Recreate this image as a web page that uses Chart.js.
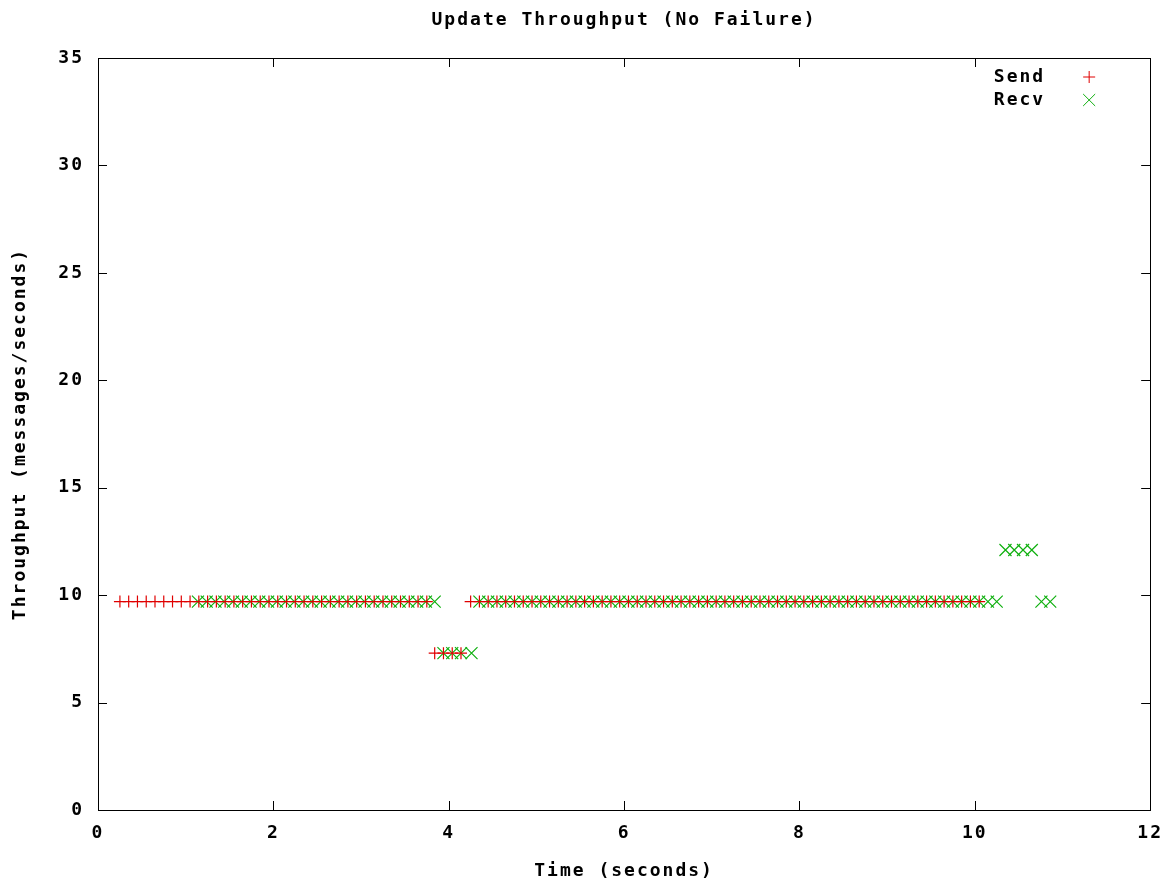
<!DOCTYPE html>
<html>
<head>
<meta charset="utf-8">
<script src="https://cdn.jsdelivr.net/npm/chart.js@4.4.0/dist/chart.umd.min.js"></script>
<style>
  html, body { margin: 0; padding: 0; background: #fff; }
  #wrap { width: 1176px; height: 884px; }
</style>
</head>
<body>
<div id="wrap"><canvas id="chart"></canvas></div>
<script>
const title  = 'Update Throughput (No Failure)';
const xLabel = 'Time (seconds)';
const yLabel = 'Throughput (messages/seconds)';

const xTicks = [0, 2, 4, 6, 8, 10, 12];
const yTicks = [0, 5, 10, 15, 20, 25, 30, 35];

// send timestamps (s) and throughput (msg/s)
const sendTime = [
  0.25,0.35,0.45,0.55,0.65,0.75,0.85,0.95,1.05,1.15,1.25,1.35,1.45,1.55,1.65,1.75,1.85,1.95,
  2.05,2.15,2.25,2.35,2.45,2.55,2.65,2.75,2.85,2.95,3.05,3.15,3.25,3.35,3.45,3.55,3.65,3.75,
  3.84,3.94,4.04,4.14,
  4.25,4.35,4.45,4.55,4.65,4.75,4.85,4.95,5.05,5.15,5.25,5.35,5.45,5.55,5.65,5.75,5.85,5.95,
  6.05,6.15,6.25,6.35,6.45,6.55,6.65,6.75,6.85,6.95,7.05,7.15,7.25,7.35,7.45,7.55,7.65,7.75,
  7.85,7.95,8.05,8.15,8.25,8.35,8.45,8.55,8.65,8.75,8.85,8.95,9.05,9.15,9.25,9.35,9.45,9.55,
  9.65,9.75,9.85,9.95,10.05
];
const sendRate = [
  9.7,9.7,9.7,9.7,9.7,9.7,9.7,9.7,9.7,9.7,9.7,9.7,9.7,9.7,9.7,9.7,9.7,9.7,
  9.7,9.7,9.7,9.7,9.7,9.7,9.7,9.7,9.7,9.7,9.7,9.7,9.7,9.7,9.7,9.7,9.7,9.7,
  7.3,7.3,7.3,7.3,
  9.7,9.7,9.7,9.7,9.7,9.7,9.7,9.7,9.7,9.7,9.7,9.7,9.7,9.7,9.7,9.7,9.7,9.7,
  9.7,9.7,9.7,9.7,9.7,9.7,9.7,9.7,9.7,9.7,9.7,9.7,9.7,9.7,9.7,9.7,9.7,9.7,
  9.7,9.7,9.7,9.7,9.7,9.7,9.7,9.7,9.7,9.7,9.7,9.7,9.7,9.7,9.7,9.7,9.7,9.7,
  9.7,9.7,9.7,9.7,9.7
];

// receive timestamps (s) and throughput (msg/s)
const recvTime = [
  1.14,1.24,1.34,1.44,1.54,1.64,1.74,1.84,1.94,2.04,2.14,2.24,2.34,2.44,2.54,2.64,2.74,2.84,
  2.94,3.04,3.14,3.24,3.34,3.44,3.54,3.64,3.74,3.84,
  3.94,4.04,4.14,4.26,
  4.35,4.45,4.55,4.65,4.75,4.85,4.95,5.05,5.15,5.25,5.35,5.45,5.55,5.65,5.75,5.85,5.95,6.05,
  6.15,6.25,6.35,6.45,6.55,6.65,6.75,6.85,6.95,7.05,7.15,7.25,7.35,7.45,7.55,7.65,7.75,7.85,
  7.95,8.05,8.15,8.25,8.35,8.45,8.55,8.65,8.75,8.85,8.95,9.05,9.15,9.25,9.35,9.45,9.55,9.65,
  9.75,9.85,9.95,10.05,10.15,10.25,
  10.35,10.45,10.55,10.65,
  10.76,10.86
];
const recvRate = [
  9.7,9.7,9.7,9.7,9.7,9.7,9.7,9.7,9.7,9.7,9.7,9.7,9.7,9.7,9.7,9.7,9.7,9.7,
  9.7,9.7,9.7,9.7,9.7,9.7,9.7,9.7,9.7,9.7,
  7.3,7.3,7.3,7.3,
  9.7,9.7,9.7,9.7,9.7,9.7,9.7,9.7,9.7,9.7,9.7,9.7,9.7,9.7,9.7,9.7,9.7,9.7,
  9.7,9.7,9.7,9.7,9.7,9.7,9.7,9.7,9.7,9.7,9.7,9.7,9.7,9.7,9.7,9.7,9.7,9.7,
  9.7,9.7,9.7,9.7,9.7,9.7,9.7,9.7,9.7,9.7,9.7,9.7,9.7,9.7,9.7,9.7,9.7,9.7,
  9.7,9.7,9.7,9.7,9.7,9.7,
  12.1,12.1,12.1,12.1,
  9.7,9.7
];

const RED = '#e00000';
const GREEN = '#10b010';
const FONT = { family: '"DejaVu Sans Mono", monospace', size: 18, weight: 'bold' };

const toPoints = (xs, ys) => xs.map((x, i) => ({ x: x, y: ys[i] }));

// gnuplot look: spaced text, frame on all sides, ticks pointing inward
const gnuplotStyle = {
  id: 'gnuplotStyle',
  beforeLayout(chart) { chart.ctx.letterSpacing = '2px'; },
  beforeDraw(chart) { chart.ctx.letterSpacing = '2px'; },
  beforeDatasetsDraw(chart) {
    const { ctx, chartArea: a, scales } = chart;
    ctx.save();
    ctx.strokeStyle = '#000';
    ctx.lineWidth = 1;
    ctx.beginPath();
    xTicks.forEach(v => {
      const px = Math.round(scales.x.getPixelForValue(v)) + 0.5;
      ctx.moveTo(px, a.bottom); ctx.lineTo(px, a.bottom - 9);
      ctx.moveTo(px, a.top); ctx.lineTo(px, a.top + 9);
    });
    yTicks.forEach(v => {
      const py = Math.round(scales.y.getPixelForValue(v)) + 0.5;
      ctx.moveTo(a.left, py); ctx.lineTo(a.left + 9, py);
      ctx.moveTo(a.right, py); ctx.lineTo(a.right - 9, py);
    });
    ctx.stroke();
    ctx.strokeRect(Math.round(a.left) + 0.5, Math.round(a.top) + 0.5,
                   Math.round(a.right - a.left), Math.round(a.bottom - a.top));
    ctx.restore();
  },
  afterDraw(chart) {
    const { ctx, chartArea: a } = chart;
    const sets = chart.data.datasets;
    ctx.save();
    ctx.font = 'bold 18px "DejaVu Sans Mono", monospace';
    ctx.fillStyle = '#000';
    ctx.textBaseline = 'middle';
    // title, centred over the plot area
    ctx.textAlign = 'center';
    ctx.fillText(title, (a.left + a.right) / 2, 20);
    // key, top right inside the frame
    ctx.textAlign = 'right';
    sets.forEach((ds, i) => {
      const y = a.top + 19 + i * 23;
      ctx.fillText(ds.label, a.right - 105, y);
      ctx.strokeStyle = ds.borderColor;
      ctx.fillStyle = ds.borderColor;
      Chart.helpers.drawPoint(ctx, {
        pointStyle: ds.pointStyle, radius: ds.pointRadius,
        borderWidth: ds.borderWidth, rotation: 0
      }, a.right - 61, y);
      ctx.fillStyle = '#000';
    });
    ctx.restore();
  }
};

new Chart(document.getElementById('chart'), {
  type: 'scatter',
  data: {
    datasets: [
      { label: 'Send', data: toPoints(sendTime, sendRate), pointStyle: 'cross',
        pointRadius: 6, borderColor: RED, backgroundColor: RED, borderWidth: 1.2 },
      { label: 'Recv', data: toPoints(recvTime, recvRate), pointStyle: 'crossRot',
        pointRadius: 8.5, borderColor: GREEN, backgroundColor: GREEN, borderWidth: 1.2 }
    ]
  },
  options: {
    responsive: true,
    maintainAspectRatio: false,
    animation: false,
    layout: { padding: { left: 0, right: 20, top: 58, bottom: 0 } },
    plugins: {
      legend: { display: false },
      tooltip: { enabled: false },
      title: { display: false }
    },
    scales: {
      x: {
        type: 'linear', min: 0, max: 12,
        afterBuildTicks: s => { s.ticks = xTicks.map(v => ({ value: v })); },
        afterFit: s => { s.height = 74; },
        grid: { display: false, drawTicks: false },
        border: { display: false },
        ticks: { color: '#000', font: FONT, padding: 13, maxRotation: 0 },
        title: { display: true, text: xLabel, color: '#000', font: FONT,
                 padding: { top: 0, bottom: 2 } }
      },
      y: {
        type: 'linear', min: 0, max: 35,
        afterBuildTicks: s => { s.ticks = yTicks.map(v => ({ value: v })); },
        afterFit: s => { s.width = 98; },
        grid: { display: false, drawTicks: false },
        border: { display: false },
        ticks: { color: '#000', font: FONT, padding: 14 },
        title: { display: true, text: yLabel, color: '#000', font: FONT,
                 padding: { top: 10, bottom: 0 } }
      }
    }
  },
  plugins: [gnuplotStyle]
});
</script>
</body>
</html>
